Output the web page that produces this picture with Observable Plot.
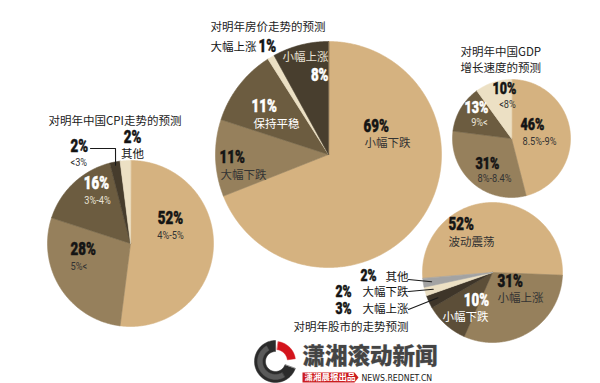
<!DOCTYPE html>
<html>
<head>
<meta charset="utf-8">
<script src="https://cdn.jsdelivr.net/npm/d3@7"></script>
<script src="https://cdn.jsdelivr.net/npm/@observablehq/plot@0.6"></script>
<style>
  html, body { margin: 0; padding: 0; background: #fff; }
  #chart svg { display: block; }
</style>
</head>
<body>
<div id="chart"></div>
<script>
// ---------------- data ----------------
const cpiTitle = "对明年中国CPI走势的预测";
const cpiLabels = ["4%-5%", "5%<", "3%-4%", "<3%", "其他"];
const cpiValues = [52, 28, 16, 2, 2];

const houseTitle = "对明年房价走势的预测";
const houseLabels = ["小幅下跌", "大幅下跌", "保持平稳", "大幅上涨", "小幅上涨"];
const houseValues = [69, 11, 11, 1, 8];

const gdpTitle = ["对明年中国GDP", "增长速度的预测"];
const gdpLabels = ["8.5%-9%", "8%-8.4%", "9%<", "<8%"];
const gdpValues = [46, 31, 13, 10];

const stockTitle = "对明年股市的走势预测";
const stockLabels = ["波动震荡", "小幅上涨", "小幅下跌", "大幅上涨", "大幅下跌", "其他"];
const stockValues = [52, 31, 10, 3, 2, 2];

const brandName = "潇湘滚动新闻";
const brandTag = "潇湘晨报出品";
const brandUrl = "NEWS.REDNET.CN";

// ---------------- layout & style ----------------
const W = 600, H = 383;
const CJK = "'Noto Sans CJK SC', 'Noto Sans', sans-serif";
const NUM = "'Roboto', 'DejaVu Sans', sans-serif";

const tan = "#d5b280", mid = "#96805c", dark = "#6c5c40", darker = "#463c2c", cream = "#ece0c4";

const pies = {
  cpi:   {cx: 130, cy: 243, r: 83,  start: 0,   colors: [tan, mid, dark, darker, cream]},
  house: {cx: 328, cy: 154, r: 113, start: 0,   colors: [tan, mid, dark, cream, "#483e2e"]},
  gdp:   {cx: 511, cy: 138, r: 59,  start: 0,   colors: [tan, mid, dark, cream]},
  stock: {cx: 492, cy: 272, r: 70,  start: -95, colors: [tan, mid, "#5c4e38", "#3e3529", cream, "#a3a3a3"]}
};

// label placement per slice: percent (p) and sub label (s)
const W1 = "#ffffff", B1 = "#141414", G1 = "#333333", L1 = "#e8e2d6";
const place = {
  cpi: [
    {px: 170, py: 218, pa: "middle", pc: B1, sx: 170, sy: 235, sa: "middle", sc: G1, ps: 18},
    {px: 70,  py: 249, pa: "start",  pc: B1, sx: 70,  sy: 266, sa: "start",  sc: G1, ps: 18},
    {px: 96,  py: 183, pa: "middle", pc: W1, sx: 97,  sy: 200, sa: "middle", sc: L1, ps: 18},
    {px: 70,  py: 146, pa: "start",  pc: B1, sx: 70,  sy: 162, sa: "start",  sc: G1, ps: 18},
    {px: 132, py: 137, pa: "middle", pc: B1, sx: 132, sy: 154, sa: "middle", sc: B1, ps: 18}
  ],
  house: [
    {px: 363, py: 126, pa: "start",  pc: B1, sx: 364, sy: 143, sa: "start",  sc: G1, ps: 18},
    {px: 219, py: 157, pa: "start",  pc: B1, sx: 220, sy: 175, sa: "start",  sc: G1, ps: 18},
    {px: 251, py: 106, pa: "start",  pc: W1, sx: 253, sy: 124, sa: "start",  sc: W1, ps: 18},
    {px: 258, py: 46,  pa: "start",  pc: B1, sx: 210, sy: 47,  sa: "start",  sc: B1, ps: 18},
    {px: 328, py: 75,  pa: "end",    pc: W1, sx: 328, sy: 57,  sa: "end",    sc: L1, ps: 18}
  ],
  gdp: [
    {px: 520, py: 124, pa: "start",  pc: B1, sx: 522, sy: 141, sa: "start",  sc: G1, ps: 17},
    {px: 475, py: 163, pa: "start",  pc: B1, sx: 477, sy: 178, sa: "start",  sc: G1, ps: 17},
    {px: 476, py: 107, pa: "middle", pc: W1, sx: 479, sy: 122, sa: "middle", sc: L1, ps: 17},
    {px: 504, py: 88,  pa: "middle", pc: B1, sx: 507, sy: 104, sa: "middle", sc: G1, ps: 17}
  ],
  stock: [
    {px: 448, py: 224, pa: "start",  pc: B1, sx: 448, sy: 242, sa: "start",  sc: G1, ps: 18},
    {px: 497, py: 281, pa: "start",  pc: B1, sx: 497, sy: 298, sa: "start",  sc: G1, ps: 18},
    {px: 476, py: 300, pa: "middle", pc: W1, sx: 465, sy: 317, sa: "middle", sc: W1, ps: 18},
    {px: 335, py: 308, pa: "start",  pc: B1, sx: 362, sy: 309, sa: "start",  sc: B1, ps: 16.5},
    {px: 335, py: 291, pa: "start",  pc: B1, sx: 362, sy: 292, sa: "start",  sc: B1, ps: 16.5},
    {px: 360, py: 275, pa: "start",  pc: B1, sx: 385, sy: 277, sa: "start",  sc: B1, ps: 16.5}
  ]
};
const pctSqueeze = 0.74;   // condensed look of the percent figures
const latinSqueeze = 0.88;

const titles = [
  {x: 48,  y: 121, text: cpiTitle},
  {x: 210, y: 27,  text: houseTitle},
  {x: 460, y: 52,  text: gdpTitle[0]},
  {x: 460, y: 67.5, text: gdpTitle[1]},
  {x: 293, y: 327, text: stockTitle}
];

// leader lines: fixed start points near the label, ending inside the slice
const leaders = [
  {pie: "cpi",   slice: 3, frac: 0.96, from: [[90, 148], [115, 148]]},
  {pie: "stock", slice: 5, frac: 0.88, from: [[408, 279]]},
  {pie: "stock", slice: 4, frac: 0.88, from: [[408, 291]]},
  {pie: "stock", slice: 3, frac: 0.86, from: [[408, 309]]}
];

// ---------------- build geometry from values ----------------
const seriesData = {cpi: [cpiValues, cpiLabels], house: [houseValues, houseLabels], gdp: [gdpValues, gdpLabels], stock: [stockValues, stockLabels]};
const rad = d => d * Math.PI / 180;
const arcsOf = {};
const wedgePts = [];
const textRows = [];

for (const [name, [values, labels]] of Object.entries(seriesData)) {
  const p = pies[name];
  const arcs = d3.pie().sort(null).value(d => d)
    .startAngle(rad(p.start)).endAngle(rad(p.start + 360))(values);
  arcsOf[name] = arcs;
  arcs.forEach((a, i) => {
    const key = name + i, fill = p.colors[i];
    wedgePts.push({key, x: p.cx, y: p.cy, fill});
    const n = Math.max(2, Math.ceil((a.endAngle - a.startAngle) / rad(0.5)));
    for (let k = 0; k <= n; k++) {
      const t = a.startAngle + (a.endAngle - a.startAngle) * k / n;
      wedgePts.push({key, x: p.cx + p.r * Math.sin(t), y: p.cy - p.r * Math.cos(t), fill});
    }
    const L = place[name][i];
    textRows.push({x: L.px, y: L.py, text: values[i] + "%", anchor: L.pa, fill: L.pc, size: L.ps, kind: "pct"});
    const isLatin = /^[0-9<%.\-]+$/.test(labels[i]);
    textRows.push({x: L.sx, y: L.sy, text: labels[i], anchor: L.sa, fill: L.sc, size: isLatin ? 10.5 : 11.5, kind: isLatin ? "latin" : "cjk"});
  });
}

const leaderPts = [];
leaders.forEach((l, j) => {
  const p = pies[l.pie];
  const a = arcsOf[l.pie][l.slice];
  const t = (a.startAngle + a.endAngle) / 2;
  l.from.forEach(([x, y]) => leaderPts.push({key: "l" + j, x, y}));
  leaderPts.push({key: "l" + j, x: p.cx + p.r * l.frac * Math.sin(t), y: p.cy - p.r * l.frac * Math.cos(t)});
});

// brand logo (decoration)
const logo = {cx: 275, cy: 361, ro: 21, ri: 10};
const logoPts = [];
function ring(key, a0, a1, ro, ri, fill) {
  const n = 60;
  for (let k = 0; k <= n; k++) {
    const t = rad(a0 + (a1 - a0) * k / n);
    logoPts.push({key, x: logo.cx + ro * Math.sin(t), y: logo.cy - ro * Math.cos(t), fill});
  }
  for (let k = n; k >= 0; k--) {
    const t = rad(a0 + (a1 - a0) * k / n);
    logoPts.push({key, x: logo.cx + ri * Math.sin(t), y: logo.cy - ri * Math.cos(t), fill});
  }
}
ring("ringDark", 110, 360, logo.ro, logo.ri, "#2b2b2b");
ring("ringGray", 150, 330, logo.ro - 3, logo.ri + 3, "#5a5a5a");
ring("ringRed", 8, 82, logo.ro - 1, logo.ri + 2, "#d3141c");
const tagBox = [[302, 372], [354, 372], [358, 377], [354, 382], [302, 382]].map(([x, y]) => ({key: "tag", x, y, fill: "#cc1b1f"}));

// text marks: textAnchor is a constant option, so one mark per (kind, anchor)
const fontOf = {
  pct:   {fontFamily: NUM, fontWeight: 900, stroke: "fill", strokeWidth: 0.5},
  latin: {fontFamily: NUM},
  cjk:   {fontFamily: CJK}
};
const textMarks = [];
for (const kind of ["pct", "latin", "cjk"]) {
  for (const anchor of ["start", "middle", "end"]) {
    const rows = textRows.filter(d => d.kind === kind && d.anchor === anchor);
    if (!rows.length) continue;
    textMarks.push(Plot.text(rows, {
      x: "x", y: "y", text: "text", fill: "fill", fontSize: "size",
      textAnchor: anchor, lineAnchor: "middle", ...fontOf[kind]
    }));
  }
}

// ---------------- plot ----------------
const chart = Plot.plot({
  width: W, height: H,
  marginTop: 0, marginRight: 0, marginBottom: 0, marginLeft: 0,
  x: {domain: [0, W], range: [0, W], axis: null},
  y: {domain: [0, H], range: [0, H], axis: null},
  color: {type: "identity"},
  style: {background: "#ffffff"},
  marks: [
    Plot.line(wedgePts, {x: "x", y: "y", z: "key", fill: "fill", stroke: "fill", strokeWidth: 0.6, curve: "linear-closed"}),
    Plot.line(leaderPts, {x: "x", y: "y", z: "key", stroke: "#1a1a1a", strokeWidth: 1.1}),
    ...textMarks,
    Plot.text(titles, {x: "x", y: "y", text: "text", textAnchor: "start", lineAnchor: "middle",
      fontSize: 11.5, fontFamily: CJK, fill: "#222"}),
    Plot.line(logoPts, {x: "x", y: "y", z: "key", fill: "fill", stroke: "fill", strokeWidth: 0.5, curve: "linear-closed"}),
    Plot.line(tagBox, {x: "x", y: "y", z: "key", fill: "fill", curve: "linear-closed"}),
    Plot.text([{x: 302, y: 356, text: brandName}], {x: "x", y: "y", text: "text", textAnchor: "start", lineAnchor: "middle",
      fontSize: 22.5, fontFamily: CJK, fontWeight: 900, fill: "#444", stroke: "#bdbdbd", strokeWidth: 0.6}),
    Plot.text([{x: 304, y: 377, text: brandTag}], {x: "x", y: "y", text: "text", textAnchor: "start", lineAnchor: "middle",
      fontSize: 8.5, fontFamily: CJK, fontWeight: "bold", fill: "#fff"}),
    Plot.text([{x: 361, y: 377.5, text: brandUrl}], {x: "x", y: "y", text: "text", textAnchor: "start", lineAnchor: "middle",
      fontSize: 8.5, fontFamily: "'DejaVu Sans', sans-serif", fill: "#222"})
  ]
});

// horizontally condense some texts around their own anchor point
function squeezeEl(el, s) {
  const tr = el.getAttribute("transform") || "";
  if (/translate\(/.test(tr)) {
    el.setAttribute("transform", tr + ` scale(${s},1)`);
  } else {
    const x = +(el.getAttribute("x") || 0);
    el.setAttribute("transform", `translate(${x},0) scale(${s},1) translate(${-x},0) ` + tr);
  }
}
const pctTexts = new Set(textRows.filter(d => d.kind === "pct").map(d => d.text));
const latinTexts = new Set(textRows.filter(d => d.kind === "latin").map(d => d.text));
chart.querySelectorAll("text").forEach(el => {
  const t = el.textContent.trim();
  if (pctTexts.has(t)) squeezeEl(el, pctSqueeze);
  else if (latinTexts.has(t)) squeezeEl(el, latinSqueeze);
  else if (t === brandUrl) squeezeEl(el, 0.92);
});

document.getElementById("chart").appendChild(chart);
</script>
</body>
</html>
